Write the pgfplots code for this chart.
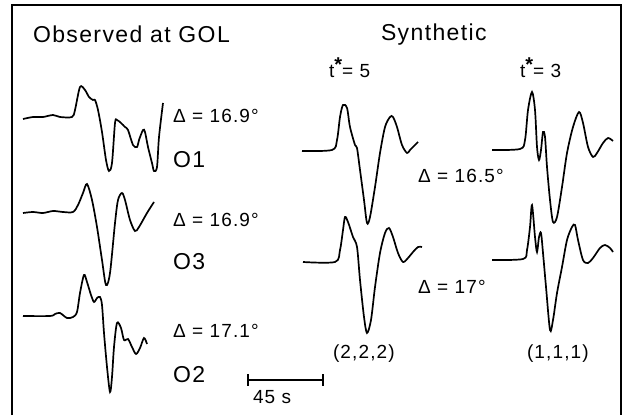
\documentclass[border=0pt]{standalone}
\usepackage{pgfplots}
\pgfplotsset{compat=1.18}
\usepackage{fontspec}
\setmainfont{Liberation Sans}
\newfontfamily\lab[LetterSpace=6]{Liberation Sans}
\newcommand{\tstar}{t\raisebox{0.6ex}{\fontsize{10}{10}\selectfont\bfseries *}}
\tikzset{
  lbl/.style={inner sep=0pt, outer sep=0pt, anchor=base west, font=\lab\fontsize{9.5}{11}\selectfont},
  big/.style={lbl, font=\lab\fontsize{11.5}{13}\selectfont},
}

% coordinates are in pixels of the 630x415 sheet, y counted downwards
\begin{document}
\begin{tikzpicture}
\begin{axis}[
  x=0.5pt, y=0.5pt, y dir=reverse,
  xmin=0, xmax=630, ymin=0, ymax=415,
  scale only axis, axis line style={draw=none}, ticks=none,
  clip=false,
  trace/.style={black, line width=0.85pt, smooth, tension=0.5},
]
% frame (bottom edge cut off in the scan)
\addplot[black, line width=1.1pt, sharp plot] coordinates {(12,415)(12,5)(621,5)(621,415)};

% observed, O1
\addplot[trace] coordinates {
(23,119)(33,117)(43,117)(53,115)(60,117)(72,117)(75,110)(80,87)(85,90)(89,97)
(93,100)(95,100)(98,110)(102,132)(106,160)(109,171)(112,163)(115,123)(117,120)
(121,123)(125,127)(128,130)(133,145)(137,147)(139,140)(143,130)(145,132)(148,147)
(152,163)(154,171)(157,167)(159,137)(163,103)};
% observed, O3
\addplot[trace] coordinates {
(23,213)(33,212)(43,213)(53,211)(63,212)(73,212)(78,205)(83,193)(87,184)(92,200)
(97,227)(102,260)(106,285)(110,273)(115,223)(118,200)(122,193)(125,200)(130,220)
(135,231)(139,227)(147,213)(154,202)};
% observed, O2
\addplot[trace] coordinates {
(23,316)(50,316)(55,314)(60,313)(67,318)(73,317)(77,312)(80,293)(84,275)(87,282)
(91,295)(94,302)(97,298)(100,297)(102,305)(104,333)(107,367)(110,392)(112,377)
(114,347)(117,323)(121,328)(124,340)(128,339)(132,347)(136,354)(140,348)(144,338)
(147,344)};

% synthetic, t*=5, 16.5
\addplot[trace] coordinates {
(302,151)(332,150)(337,140)(340,117)(343,105)(347,108)(350,127)(355,145)(357,148)
(360,170)(364,200)(367,223)(370,217)(375,187)(380,153)(385,127)(390,117)(393,117)
(397,127)(402,145)(407,153)(410,150)(415,145)(418,142)};
% synthetic, t*=3, 16.5
\addplot[trace] coordinates {
(492,150)(520,149)(525,140)(528,110)(532,92)(535,110)(537,147)(539,160)(541,150)
(543,132)(545,137)(547,167)(550,200)(553,222)(557,217)(562,187)(567,153)(573,127)
(579,112)(583,123)(588,147)(593,157)(597,153)(603,143)(608,138)(613,141)};
% synthetic, t*=5, 17
\addplot[trace] coordinates {
(303,262)(335,262)(340,250)(343,230)(345,217)(348,222)(353,237)(357,247)(360,280)
(364,317)(367,333)(371,320)(375,287)(380,253)(385,233)(389,228)(393,237)(398,253)
(403,262)(408,258)(413,252)(418,247)(422,247)};
% synthetic, t*=3, 17
\addplot[trace] coordinates {
(492,260)(523,259)(527,250)(530,227)(532,205)(535,237)(537,252)(539,237)(541,233)
(543,253)(546,287)(550,330)(553,320)(557,293)(562,267)(567,240)(572,227)(575,225)
(578,240)(583,260)(588,263)(593,258)(600,248)(605,245)(610,248)(613,252)};

% 45 s scale bar
\addplot[black, line width=0.7pt, sharp plot] coordinates {(248,380)(323,380)};
\addplot[black, line width=0.7pt, sharp plot] coordinates {(248,374)(248,386)};
\addplot[black, line width=0.7pt, sharp plot] coordinates {(323,374)(323,386)};

\node[big] at (axis cs:33,43) {Observed at GOL};
\node[big] at (axis cs:381,41) {Synthetic};
\node[lbl] at (axis cs:329,78) {\tstar= 5};
\node[lbl] at (axis cs:520,78) {\tstar= 3};

\node[lbl] at (axis cs:173,123) {Δ = 16.9°};
\node[big] at (axis cs:173,168) {O1};
\node[lbl] at (axis cs:173,227) {Δ = 16.9°};
\node[big] at (axis cs:173,270) {O3};
\node[lbl] at (axis cs:173,337) {Δ = 17.1°};
\node[big] at (axis cs:173,382) {O2};

\node[lbl] at (axis cs:418,183) {Δ = 16.5°};
\node[lbl] at (axis cs:418,293) {Δ = 17°};
\node[lbl] at (axis cs:333,358) {(2,2,2)};
\node[lbl] at (axis cs:527,358) {(1,1,1)};
\node[lbl] at (axis cs:253,403) {45 s};
\end{axis}
\end{tikzpicture}
\end{document}
